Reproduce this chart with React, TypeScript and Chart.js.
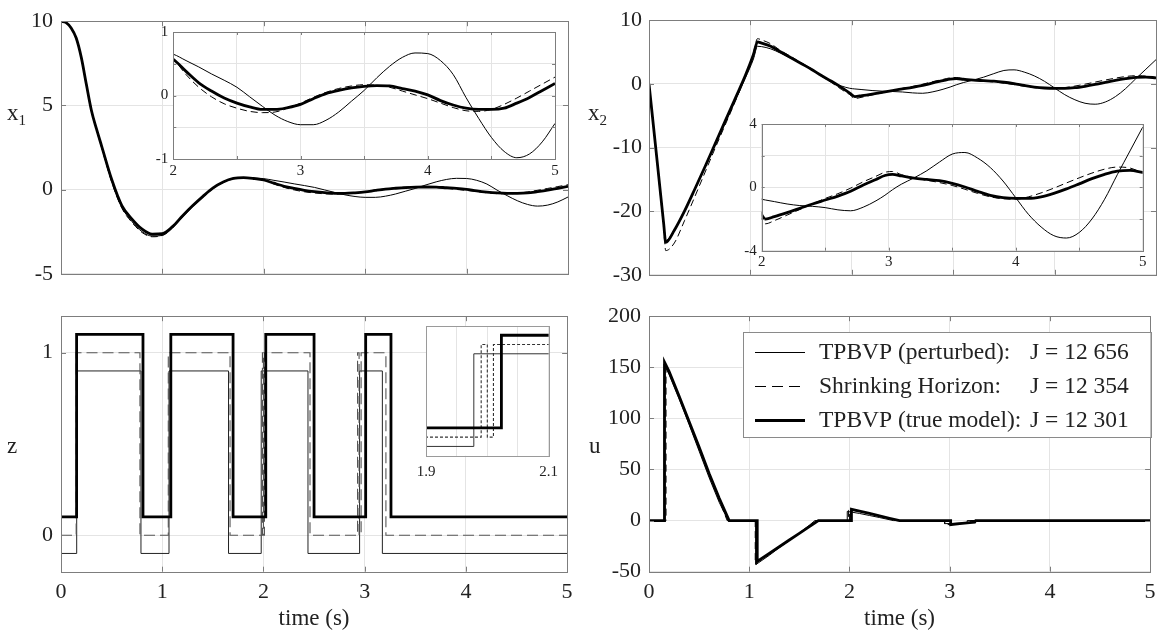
import React, { useEffect, useRef } from 'react';
import { Chart, registerables } from 'chart.js';

Chart.register(...registerables);

const FONT = "'Liberation Serif', 'Times New Roman', Times, serif";
const TXT = '#222222';
const GRID = '#e4e4e4';
const BOX = '#7d7d7d';

// ---------------- data ----------------
// x1 (top left)
const tX1 = [0, 0.05, 0.1, 0.15, 0.2, 0.25, 0.3, 0.35, 0.4, 0.5, 0.6, 0.7, 0.8, 0.9, 1, 1.1, 1.2, 1.3, 1.4, 1.5, 1.6, 1.7, 1.8, 1.9, 2,
  2.1, 2.2, 2.3, 2.4, 2.5, 2.6, 2.7, 2.8, 2.9, 3, 3.1, 3.2, 3.3, 3.4, 3.5, 3.6, 3.7, 3.8, 3.9, 4, 4.1, 4.2, 4.3, 4.4, 4.5, 4.6, 4.7, 4.8, 4.9, 5];
const x1True = [10, 9.92, 9.6, 9.0, 7.85, 6.25, 4.7, 3.6, 2.6, 0.6, -0.95, -1.75, -2.35, -2.65, -2.62, -2.2, -1.55, -0.95, -0.4, 0.1, 0.45, 0.66, 0.71, 0.66, 0.57,
  0.38, 0.2, 0.07, -0.04, -0.12, -0.18, -0.22, -0.22, -0.19, -0.14, -0.05, 0.03, 0.08, 0.12, 0.145, 0.155, 0.15, 0.11, 0.07, 0.01, -0.08, -0.15, -0.2, -0.22, -0.22, -0.2, -0.12, -0.03, 0.08, 0.19];
const x1Pert = [10, 9.92, 9.6, 9.0, 7.85, 6.25, 4.75, 3.6, 2.55, 0.5, -1.05, -1.9, -2.5, -2.76, -2.72, -2.28, -1.62, -1.0, -0.42, 0.1, 0.46, 0.67, 0.72, 0.69, 0.65,
  0.55, 0.45, 0.34, 0.24, 0.13, -0.02, -0.17, -0.31, -0.41, -0.46, -0.46, -0.39, -0.26, -0.09, 0.08, 0.28, 0.46, 0.6, 0.67, 0.66, 0.55, 0.33, -0.03, -0.36, -0.66, -0.88, -0.98, -0.92, -0.73, -0.44];
const x1Shrink = [10, 9.92, 9.6, 8.95, 7.8, 6.2, 4.65, 3.55, 2.5, 0.45, -1.1, -1.95, -2.55, -2.8, -2.72, -2.25, -1.6, -1.0, -0.45, 0.05, 0.42, 0.64, 0.7, 0.66, 0.57,
  0.33, 0.13, -0.02, -0.13, -0.2, -0.25, -0.27, -0.26, -0.2, -0.12, -0.03, 0.05, 0.11, 0.15, 0.17, 0.16, 0.13, 0.07, 0.01, -0.05, -0.12, -0.19, -0.24, -0.25, -0.22, -0.14, -0.04, 0.07, 0.18, 0.29];

// x2 (top right)
const tX2 = [0, 0.08, 0.145, 0.165, 0.25, 0.35, 0.45, 0.55, 0.65, 0.75, 0.85, 0.95, 1.03, 1.07, 1.11, 1.2, 1.3, 1.4, 1.5, 1.6, 1.7, 1.8, 1.9, 1.98, 2.03, 2.1,
  2.2, 2.3, 2.4, 2.5, 2.6, 2.7, 2.8, 2.9, 2.97, 3.03, 3.1, 3.2, 3.3, 3.4, 3.5, 3.6, 3.7, 3.8, 3.9, 4, 4.1, 4.2, 4.3, 4.4, 4.5, 4.6, 4.7, 4.8, 4.9, 5];
const x2True = [0, -12.1, -22.0, -24.9, -23.0, -20.0, -16.6, -13.1, -9.5, -5.9, -2.3, 1.3, 4.6, 6.6, 6.4, 5.9, 5.0, 4.1, 3.2, 2.3, 1.3, 0.4, -0.6, -1.45, -2.0, -1.85,
  -1.6, -1.33, -1.05, -0.8, -0.55, -0.25, 0.15, 0.5, 0.75, 0.82, 0.72, 0.58, 0.5, 0.42, 0.25, 0.02, -0.25, -0.5, -0.65, -0.7, -0.7, -0.6, -0.38, -0.1, 0.22, 0.55, 0.82, 1.02, 1.07, 0.95];
const x2Pert = [0, -12.0, -21.8, -24.6, -22.9, -20.0, -16.7, -13.2, -9.7, -6.2, -2.7, 0.9, 3.9, 5.9, 5.85, 5.5, 4.8, 4.0, 3.3, 2.4, 1.3, 0.3, -0.35, -0.7, -0.8, -0.9,
  -1.05, -1.15, -1.2, -1.28, -1.42, -1.48, -1.25, -0.85, -0.5, -0.15, 0.2, 0.6, 1.05, 1.6, 2.1, 2.2, 1.85, 1.25, 0.4, -0.65, -1.7, -2.5, -3.05, -3.2, -2.85, -2.0, -0.75, 0.8, 2.3, 3.8];
const x2Shrink = [0, -12.3, -22.8, -26.2, -25.0, -21.5, -17.8, -14.0, -10.2, -6.5, -2.8, 1.2, 4.9, 7.1, 6.9, 6.3, 5.2, 4.3, 3.3, 2.3, 1.2, 0.2, -0.9, -1.7, -2.3, -2.1,
  -1.75, -1.4, -1.05, -0.7, -0.4, -0.05, 0.35, 0.7, 0.95, 1.0, 0.8, 0.6, 0.45, 0.3, 0.12, -0.12, -0.38, -0.6, -0.72, -0.75, -0.6, -0.35, -0.05, 0.28, 0.6, 0.9, 1.15, 1.28, 1.22, 0.9];

// z (bottom left) : switching instants and binary levels
const zTrueT = [0, 0.154, 0.81, 1.085, 1.7, 2.023, 2.5, 3.01, 3.26, 5];
const zTrueV = [0, 1, 0, 1, 0, 1, 0, 1, 0, 0];
const zPertT = [0, 0.155, 0.79, 1.067, 1.655, 1.978, 2.44, 2.95, 3.175, 5];
const zPertV = [0, 1, 0, 1, 0, 1, 0, 1, 0, 0];
const zShrinkT = [0, 0.15, 0.78, 1.06, 1.67, 1.99, 2.0, 2.01, 2.46, 2.93, 2.945, 2.965, 3.21, 5];
const zShrinkV = [0, 1, 0, 1, 0, 1, 0, 1, 0, 1, 0, 1, 0, 0];
const zOffset = { truth: 0.1, shrink: 0, pert: -0.1 };

// u (bottom right)
const uTrueT = [0, 0.155, 0.155, 0.2, 0.3, 0.4, 0.5, 0.6, 0.7, 0.8, 1.08, 1.08, 1.2, 1.3, 1.4, 1.5, 1.6, 1.69, 2.02, 2.02, 2.1, 2.2, 2.3, 2.4, 2.5, 3.01, 3.01, 3.1, 3.2, 3.25, 3.26, 5];
const uTrueV = [0, 0, 155, 146, 122, 97, 72, 46, 22, 0, 0, -40, -32, -25.6, -19, -12.5, -5.9, 0, 0, 11, 9.2, 7, 4.6, 2.3, 0, 0, -4, -3, -2, -1.5, 0, 0];
const uPertT = [0, 0.15, 0.15, 0.2, 0.3, 0.4, 0.5, 0.6, 0.7, 0.79, 1.067, 1.067, 1.2, 1.3, 1.4, 1.5, 1.6, 1.655, 1.978, 1.978, 2.1, 2.2, 2.3, 2.44, 2.95, 2.95, 3.1, 3.175, 3.175, 5];
const uPertV = [0, 0, 153, 143, 119, 94, 68, 42, 18, 0, 0, -43, -34, -26.5, -19.5, -12, -4.5, 0, 0, 9, 7, 5, 3, 0, 0, -3, -2.5, -2, 0, 0];
const uShrinkT = [0, 0.17, 0.17, 0.2, 0.3, 0.4, 0.5, 0.6, 0.7, 0.78, 1.06, 1.06, 1.2, 1.3, 1.4, 1.5, 1.6, 1.67, 1.99, 1.99, 2.0, 2.0, 2.01, 2.01, 2.1, 2.2, 2.3, 2.46, 2.97, 2.97, 3.1, 3.21, 3.21, 5];
const uShrinkV = [0, 0, 150, 145, 121, 95, 70, 44, 20, 0, 0, -42, -33, -26, -19.5, -12.5, -5.5, 0, 0, 10, 10, 0, 0, 10.5, 9, 6.8, 4.5, 0, 0, -4, -3, -2, 0, 0];

// ticks
const mainXTicks = [0, 1, 2, 3, 4, 5];
const x1Ticks = [-5, 0, 5, 10];
const x2Ticks = [-30, -20, -10, 0, 10];
const zTicks = [0, 1];
const uTicks = [-50, 0, 50, 100, 150, 200];
const insetXTicks = [2, 2.5, 3, 3.5, 4, 4.5, 5];
const insetXLabels = [2, 3, 4, 5];
const inset1YTicks = [-1, -0.5, 0, 0.5, 1];
const inset1YLabels = [-1, 0, 1];
const inset2YTicks = [-4, -2, 0, 2, 4];
const inset2YLabels = [-4, 0, 4];
const inset3XTicks = [1.9, 1.95, 2, 2.05, 2.1];
const inset3XLabels = [1.9, 2.1];

const legendLabels = ['TPBVP (perturbed):', 'Shrinking Horizon:', 'TPBVP (true model):'];
const legendCosts = ['J = 12 656', 'J = 12 354', 'J = 12 301'];

// ---------------- styles ----------------
const STYLE: Record<string, any> = {
  pert: { borderWidth: 1, borderColor: '#000000', borderDash: [] },
  shrink: { borderWidth: 1, borderColor: '#000000', borderDash: [7, 4] },
  truth: { borderWidth: 2.8, borderColor: '#000000', borderDash: [] },
};

function ds(t: number[], v: number[], style: string, extra: any = {}) {
  return {
    data: t.map((x, i) => ({ x, y: v[i] })),
    ...STYLE[style],
    pointRadius: 0,
    pointHoverRadius: 0,
    fill: false,
    ...extra,
  };
}

// ---------------- plugins ----------------
const framePlugin = {
  id: 'frame',
  defaults: { color: BOX, tickLen: 5, fill: null, yTicks: true },
  beforeDraw(chart: any, _a: any, opts: any) {
    if (!opts.fill) return;
    const { left, top, right, bottom } = chart.chartArea;
    const ctx = chart.ctx;
    ctx.save();
    ctx.fillStyle = opts.fill;
    ctx.fillRect(left, top, right - left, bottom - top);
    ctx.restore();
  },
  afterDatasetsDraw(chart: any, _a: any, opts: any) {
    const { left, top, right, bottom } = chart.chartArea;
    const ctx = chart.ctx;
    const tl = opts.tickLen;
    ctx.save();
    ctx.strokeStyle = opts.color;
    ctx.lineWidth = 1;
    ctx.setLineDash([]);
    ctx.beginPath();
    const xs = chart.scales.x;
    const ys = chart.scales.y;
    xs.ticks.forEach((t: any) => {
      const p = Math.round(xs.getPixelForValue(t.value)) + 0.5;
      ctx.moveTo(p, bottom); ctx.lineTo(p, bottom - tl);
      ctx.moveTo(p, top); ctx.lineTo(p, top + tl);
    });
    if (opts.yTicks) {
      ys.ticks.forEach((t: any) => {
        const p = Math.round(ys.getPixelForValue(t.value)) + 0.5;
        ctx.moveTo(left, p); ctx.lineTo(left + tl, p);
        ctx.moveTo(right, p); ctx.lineTo(right - tl, p);
      });
    }
    ctx.stroke();
    ctx.strokeRect(Math.round(left) + 0.5, Math.round(top) + 0.5, Math.round(right - left), Math.round(bottom - top));
    ctx.restore();
  },
};

const costLegendPlugin = {
  id: 'costLegend',
  defaults: { items: null },
  afterDraw(chart: any, _a: any, opts: any) {
    if (!opts.items) return;
    const ca = chart.chartArea;
    const ctx = chart.ctx;
    const [bx, by, bw, bh] = opts.box;
    ctx.save();
    ctx.fillStyle = '#ffffff';
    ctx.fillRect(ca.left + bx, ca.top + by, bw, bh);
    ctx.strokeStyle = opts.border;
    ctx.lineWidth = 1;
    ctx.strokeRect(Math.round(ca.left + bx) + 0.5, Math.round(ca.top + by) + 0.5, Math.round(bw), Math.round(bh));
    opts.items.forEach((it: any, i: number) => {
      const y = Math.round(ca.top + opts.rows[i]) + 0.5;
      ctx.beginPath();
      ctx.setLineDash(it.dash);
      ctx.lineWidth = it.width;
      ctx.strokeStyle = '#000000';
      ctx.moveTo(ca.left + opts.lineX[0], y);
      ctx.lineTo(ca.left + opts.lineX[1], y);
      ctx.stroke();
      ctx.setLineDash([]);
      ctx.font = `${opts.size}px ${FONT}`;
      ctx.fillStyle = TXT;
      ctx.textBaseline = 'middle';
      ctx.textAlign = 'left';
      ctx.fillText(it.label, ca.left + opts.textX, y);
      ctx.fillText(it.cost, ca.left + opts.costX, y);
    });
    ctx.restore();
  },
};

Chart.register(framePlugin as any, costLegendPlugin as any);

// ---------------- config helpers ----------------
type AxisSpec = {
  min: number; max: number; ticks: number[]; labels: number[]; size: number; pad: number; extent: number;
  grid?: boolean; title?: string;
};

function axis(spec: AxisSpec, dir: 'x' | 'y') {
  return {
    type: 'linear',
    position: dir === 'x' ? 'bottom' : 'left',
    min: spec.min,
    max: spec.max,
    afterBuildTicks: (s: any) => { s.ticks = spec.ticks.map((v) => ({ value: v })); },
    afterFit: (s: any) => { if (dir === 'x') s.height = spec.extent; else s.width = spec.extent; },
    ticks: {
      display: spec.labels.length > 0,
      autoSkip: false,
      maxRotation: 0,
      minRotation: 0,
      padding: spec.pad,
      color: TXT,
      font: { family: FONT, size: spec.size },
      callback: (v: number) => (spec.labels.some((l) => Math.abs(l - v) < 1e-9) ? String(v) : ''),
    },
    grid: { display: spec.grid !== false, color: GRID, lineWidth: 1, drawTicks: false },
    border: { display: false },
    title: spec.title
      ? { display: true, text: spec.title, color: TXT, font: { family: FONT, size: 23 }, padding: { top: 0, bottom: -3 } }
      : { display: false },
  };
}

function makeConfig(p: { datasets: any[]; x: AxisSpec; y: AxisSpec; padding: any; frame?: any; legend?: any }) {
  return {
    type: 'line',
    data: { datasets: p.datasets },
    options: {
      responsive: false,
      animation: false,
      devicePixelRatio: 1,
      events: [],
      layout: { padding: p.padding },
      plugins: {
        legend: { display: false },
        tooltip: { enabled: false },
        frame: p.frame || {},
        costLegend: p.legend || { items: null },
      },
      scales: { x: axis(p.x, 'x'), y: axis(p.y, 'y') },
    },
  };
}

const smooth = { cubicInterpolationMode: 'monotone' };

function ChartBox({ rect, config }: { rect: number[]; config: any }) {
  const ref = useRef<HTMLCanvasElement | null>(null);
  useEffect(() => {
    const chart = new Chart(ref.current as HTMLCanvasElement, config);
    return () => chart.destroy();
  }, []);
  return (
    <canvas
      ref={ref}
      width={rect[2]}
      height={rect[3]}
      style={{ position: 'absolute', left: rect[0], top: rect[1], width: rect[2], height: rect[3] }}
    />
  );
}

// ---------------- chart configs ----------------
const TICK = 22;
const ITICK = 15;

const cfgX1 = makeConfig({
  datasets: [ds(tX1, x1True, 'truth', smooth), ds(tX1, x1Shrink, 'shrink', smooth), ds(tX1, x1Pert, 'pert', smooth)],
  x: { min: 0, max: 5, ticks: mainXTicks, labels: [], size: TICK, pad: 8, extent: 19 },
  y: { min: -5, max: 10, ticks: x1Ticks, labels: x1Ticks, size: TICK, pad: 8, extent: 61 },
  padding: { left: 0, top: 17.5, right: 12, bottom: 0 },
});

const cfgX1Inset = makeConfig({
  datasets: [ds(tX1, x1True, 'truth', smooth), ds(tX1, x1Shrink, 'shrink', smooth), ds(tX1, x1Pert, 'pert', smooth)],
  x: { min: 2, max: 5, ticks: insetXTicks, labels: insetXLabels, size: ITICK, pad: 3.5, extent: 29 },
  y: { min: -1, max: 1, ticks: inset1YTicks, labels: inset1YLabels, size: ITICK, pad: 5, extent: 33.3 },
  padding: { left: 0, top: 11.3, right: 10, bottom: 0 },
  frame: { fill: '#ffffff', tickLen: 3 },
});

const cfgX2 = makeConfig({
  datasets: [ds(tX2, x2True, 'truth', smooth), ds(tX2, x2Shrink, 'shrink', smooth), ds(tX2, x2Pert, 'pert', smooth)],
  x: { min: 0, max: 5, ticks: mainXTicks, labels: [], size: TICK, pad: 8, extent: 19 },
  y: { min: -30, max: 10, ticks: x2Ticks, labels: x2Ticks, size: TICK, pad: 7, extent: 68 },
  padding: { left: 0, top: 17.5, right: 7, bottom: 0 },
});

const cfgX2Inset = makeConfig({
  datasets: [ds(tX2, x2True, 'truth', smooth), ds(tX2, x2Shrink, 'shrink', smooth), ds(tX2, x2Pert, 'pert', smooth)],
  x: { min: 2, max: 5, ticks: insetXTicks, labels: insetXLabels, size: ITICK, pad: 2.5, extent: 27.3 },
  y: { min: -4, max: 4, ticks: inset2YTicks, labels: inset2YLabels, size: ITICK, pad: 5, extent: 36.7 },
  padding: { left: 0, top: 11.7, right: 10.3, bottom: 0 },
  frame: { fill: '#ffffff', tickLen: 3 },
});

function zSets(dash: number[], thinColor: string, dashColor: string) {
  return [
    ds(zTrueT, zTrueV.map((v) => v + zOffset.truth), 'truth', { stepped: true }),
    ds(zShrinkT, zShrinkV.map((v) => v + zOffset.shrink), 'shrink', { stepped: true, borderDash: dash, borderColor: dashColor, borderWidth: 1.1 }),
    ds(zPertT, zPertV.map((v) => v + zOffset.pert), 'pert', { stepped: true, borderColor: thinColor }),
  ];
}

const cfgZ = makeConfig({
  datasets: zSets([11, 5], '#222222', '#555555'),
  x: { min: 0, max: 5, ticks: mainXTicks, labels: mainXTicks, size: TICK, pad: 7.4, extent: 58.3, title: 'time (s)' },
  y: { min: -0.2, max: 1.2, ticks: zTicks, labels: zTicks, size: TICK, pad: 8, extent: 61 },
  padding: { left: 0, top: 17.7, right: 12, bottom: 0 },
});

const cfgZInset = makeConfig({
  datasets: zSets([3, 2], '#333333', '#333333'),
  x: { min: 1.9, max: 2.1, ticks: inset3XTicks, labels: inset3XLabels, size: ITICK, pad: 7, extent: 32.3 },
  y: { min: -0.2, max: 1.2, ticks: zTicks, labels: [], size: ITICK, pad: 5, extent: 26, grid: false },
  padding: { left: 0, top: 8, right: 12.3, bottom: 0 },
  frame: { fill: '#ffffff', tickLen: 0, yTicks: false, color: '#9a9a9a' },
});

const cfgU = makeConfig({
  datasets: [ds(uTrueT, uTrueV, 'truth'), ds(uShrinkT, uShrinkV, 'shrink'), ds(uPertT, uPertV, 'pert')],
  x: { min: 0, max: 5, ticks: mainXTicks, labels: mainXTicks, size: TICK, pad: 7.4, extent: 58.3, title: 'time (s)' },
  y: { min: -50, max: 200, ticks: uTicks, labels: uTicks, size: TICK, pad: 8, extent: 68 },
  padding: { left: 0, top: 17.7, right: 7, bottom: 0 },
  legend: {
    items: [
      { label: legendLabels[0], cost: legendCosts[0], dash: [], width: STYLE.pert.borderWidth },
      { label: legendLabels[1], cost: legendCosts[1], dash: [11, 6], width: STYLE.shrink.borderWidth },
      { label: legendLabels[2], cost: legendCosts[2], dash: [], width: STYLE.truth.borderWidth },
    ],
    box: [93.5, 15.8, 408, 105],
    rows: [35.3, 69.3, 103.3],
    lineX: [106, 156],
    textX: 170,
    costX: 381,
    size: 23.5,
    border: '#8a8a8a',
  },
});

const yLabels = [
  { main: 'x', sub: '1', left: 7, top: 101 },
  { main: 'x', sub: '2', left: 588, top: 101 },
  { main: 'z', sub: '', left: 7, top: 434 },
  { main: 'u', sub: '', left: 589, top: 434 },
];

export default function App() {
  return (
    <div
      style={{
        position: 'absolute', left: 0, top: 0, width: 1163, height: 630, background: '#ffffff',
        overflow: 'hidden', fontFamily: FONT, color: TXT,
      }}
    >
      <ChartBox rect={[0, 0, 580, 295]} config={cfgX1} />
      <ChartBox rect={[581, 0, 582, 295]} config={cfgX2} />
      <ChartBox rect={[0, 295, 580, 335]} config={cfgZ} />
      <ChartBox rect={[581, 295, 582, 335]} config={cfgU} />
      <ChartBox rect={[140, 18, 425, 170]} config={cfgX1Inset} />
      <ChartBox rect={[725, 110, 428, 168]} config={cfgX2Inset} />
      <ChartBox rect={[400, 318, 165, 170]} config={cfgZInset} />
      {yLabels.map((l, i) => (
        <div
          key={i}
          style={{ position: 'absolute', left: l.left, top: l.top, fontSize: 23, lineHeight: '23px', whiteSpace: 'nowrap' }}
        >
          {l.main}
          {l.sub ? <span style={{ fontSize: 15, position: 'relative', top: 5 }}>{l.sub}</span> : null}
        </div>
      ))}
    </div>
  );
}
